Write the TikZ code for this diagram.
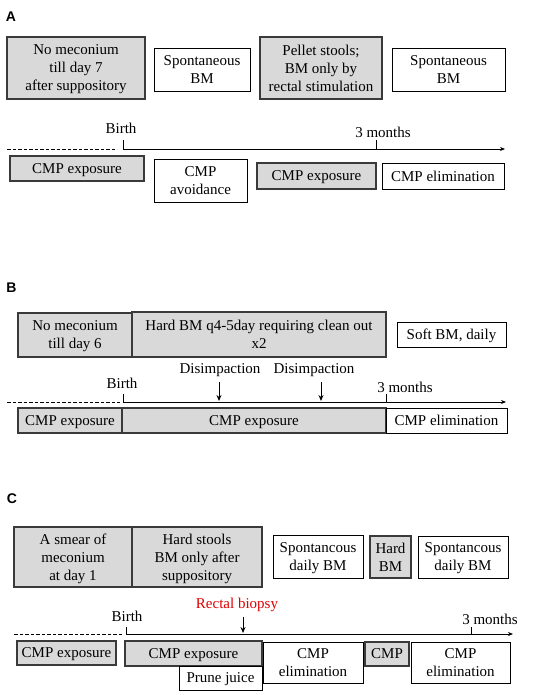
\documentclass[tikz,border=0pt]{standalone}
\usepackage{fontspec}
\setmainfont{Liberation Serif}
\setsansfont{Liberation Sans}
\usetikzlibrary{arrows.meta}
\definecolor{boxgray}{HTML}{D9D9D9}
\definecolor{edgegray}{HTML}{3A3A3A}
\definecolor{biopsyred}{HTML}{E00000}
\tikzset{
  base/.style={font=\fontsize{15}{18}\selectfont, align=center, inner sep=0pt, text=black},
  boxbase/.style={base, text depth=0pt},
  gbox/.style={boxbase, draw=edgegray, fill=boxgray, line width=1.1pt},
  wbox/.style={boxbase, draw=black, fill=white, line width=0.9pt},
  lbl/.style={base},
  panel/.style={font=\sffamily\bfseries\fontsize{14}{16}\selectfont, inner sep=0pt},
  tline/.style={line width=0.8pt, -{Stealth[length=5pt,width=4pt]}},
  dline/.style={line width=0.8pt, dash pattern=on 3.5pt off 2pt},
  tickline/.style={line width=0.8pt},
  downarrow/.style={line width=0.9pt, -{Stealth[length=6pt,width=5pt]}}
}
\newcommand{\mybox}[7]{\node[#2, minimum width={#5-#3}, minimum height={#6-#4}] (#1) at ({(#3+#5)/2},{(#4+#6)/2}) {#7};}
\begin{document}
\begin{tikzpicture}[x=1pt,y=-1pt]
\useasboundingbox[fill=white] (0,0) rectangle (536,695);

% ---------------- Panel A ----------------
\node[panel] (pA) at (11,16.5) {A};
\mybox{a1}{gbox}{7}{37}{145}{99}{No meconium\\till day 7\\after suppository}
\mybox{a2}{wbox}{154}{48}{250}{91}{Spontaneous\\BM}
\mybox{a3}{gbox}{260}{37}{382}{99}{Pellet stools;\\BM only by\\rectal stimulation}
\mybox{a4}{wbox}{392}{48}{505}{91}{Spontaneous\\BM}
\node[lbl] (aBirth) at (121,128) {Birth};
\node[lbl] (a3m) at (383,132) {3 months};
\coordinate (aD0) at (7,149);
\coordinate (aD1) at (117,149);
\coordinate (aT0) at (123,149);
\coordinate (aT1) at (505,149);
\coordinate (aK0) at (123,140);
\coordinate (aK1) at (376,140);
\coordinate (aK1b) at (376,149);
\draw[dline] (aD0) -- (aD1);
\draw[tline] (aT0) -- (aT1);
\draw[tickline] (aK0) -- (aT0);
\draw[tickline] (aK1) -- (aK1b);
\mybox{a5}{gbox}{10}{156}{144}{181}{CMP exposure}
\mybox{a6}{wbox}{154}{159}{247}{202}{CMP\\avoidance}
\mybox{a7}{gbox}{257}{163}{376}{189}{CMP exposure}
\mybox{a8}{wbox}{382}{163}{504}{189}{CMP elimination}

% ---------------- Panel B ----------------
\node[panel] (pB) at (11.5,287.5) {B};
\mybox{b1}{gbox}{18}{313}{132}{357}{No meconium\\till day 6}
\mybox{b2}{gbox}{132}{312}{386}{357}{Hard BM q4-5day requiring clean out\\x2}
\mybox{b3}{wbox}{397}{322}{506}{347}{Soft BM, daily}
\node[lbl] (bDis1) at (220,370) {Disimpaction};
\node[lbl] (bDis2) at (314,370) {Disimpaction};
\node[lbl] (bBirth) at (122,383) {Birth};
\node[lbl] (b3m) at (405,387) {3 months};
\coordinate (bA1s) at (219,382);
\coordinate (bA1e) at (219,401);
\coordinate (bA2s) at (321,382);
\coordinate (bA2e) at (321,401);
\draw[downarrow] (bA1s) -- (bA1e);
\draw[downarrow] (bA2s) -- (bA2e);
\coordinate (bD0) at (7,402);
\coordinate (bD1) at (120,402);
\coordinate (bT0) at (123,402);
\coordinate (bT1) at (506,402);
\coordinate (bK0) at (123,394);
\coordinate (bK1) at (386,394);
\coordinate (bK1b) at (386,402);
\draw[dline] (bD0) -- (bD1);
\draw[tline] (bT0) -- (bT1);
\draw[tickline] (bK0) -- (bT0);
\draw[tickline] (bK1) -- (bK1b);
\mybox{b4}{gbox}{18}{408}{122}{433}{CMP exposure}
\mybox{b5}{gbox}{122}{408}{386}{433}{CMP exposure}
\mybox{b6}{wbox}{386}{408}{507}{433}{CMP elimination}

% ---------------- Panel C ----------------
\node[panel] (pC) at (12,498.5) {C};
\mybox{c1}{gbox}{14}{527}{132}{587}{A smear of\\meconium\\at day 1}
\mybox{c2}{gbox}{132}{527}{262}{587}{Hard stools\\BM only after\\suppository}
\mybox{c3}{wbox}{273}{535}{363}{578}{Spontancous\\daily BM}
\mybox{c4}{gbox}{370}{536}{411}{578}{Hard\\BM}
\mybox{c5}{wbox}{418}{536}{508}{578}{Spontancous\\daily BM}
\node[lbl, text=biopsyred] (cBiop) at (237,605) {Rectal biopsy};
\node[lbl] (cBirth) at (127,616) {Birth};
\node[lbl] (c3m) at (490,619) {3 months};
\coordinate (cAs) at (243,617);
\coordinate (cAe) at (243,633);
\draw[downarrow] (cAs) -- (cAe);
\coordinate (cD0) at (14,634);
\coordinate (cD1) at (122,634);
\coordinate (cT0) at (126,634);
\coordinate (cT1) at (513,634);
\coordinate (cK0) at (126,627);
\coordinate (cK1) at (471,627);
\coordinate (cK1b) at (471,634);
\draw[dline] (cD0) -- (cD1);
\draw[tline] (cT0) -- (cT1);
\draw[tickline] (cK0) -- (cT0);
\draw[tickline] (cK1) -- (cK1b);
\mybox{c6}{gbox}{17}{641}{116}{665}{CMP exposure}
\mybox{c7}{gbox}{125}{641}{262}{666}{CMP exposure}
\mybox{c8}{wbox}{179}{666}{262}{690}{Prune juice}
\mybox{c9}{wbox}{263}{642}{363}{683}{CMP\\elimination}
\mybox{c10}{gbox}{365}{642}{409}{666}{CMP}
\mybox{c11}{wbox}{411}{642}{510}{683}{CMP\\elimination}
\end{tikzpicture}
\end{document}
